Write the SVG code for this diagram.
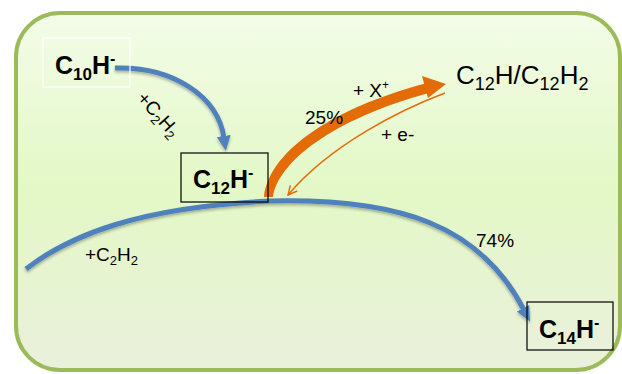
<svg xmlns="http://www.w3.org/2000/svg" width="622" height="374" viewBox="0 0 622 374">
<defs>
<linearGradient id="bg" x1="0" y1="0" x2="0" y2="1">
<stop offset="0" stop-color="#F3FCE8"/>
<stop offset="0.5" stop-color="#E3F8C6"/>
<stop offset="1" stop-color="#EAF0DC"/>
</linearGradient>
<filter id="sh" x="-10%" y="-10%" width="120%" height="130%">
<feGaussianBlur in="SourceAlpha" stdDeviation="1.5"/>
<feOffset dx="0" dy="2"/>
<feComponentTransfer><feFuncA type="linear" slope="0.3"/></feComponentTransfer>
<feMerge><feMergeNode/><feMergeNode in="SourceGraphic"/></feMerge>
</filter>
<marker id="blueHead" markerUnits="userSpaceOnUse" markerWidth="16" markerHeight="16" refX="2" refY="7" orient="auto" viewBox="0 0 16 14">
<path d="M0,0 L15,7 L0,14 Z" fill="#4F81BD"/>
</marker>
<marker id="thinHead" markerUnits="userSpaceOnUse" markerWidth="12" markerHeight="12" refX="10" refY="5" orient="auto" viewBox="0 0 12 10">
<path d="M1,0.5 L10,5 L1,9.5" fill="none" stroke="#E36C09" stroke-width="1.4"/>
</marker>
<style>
.lbl{font-family:"Liberation Sans",Arial,sans-serif;font-size:19px;fill:#000}
.big{font-family:"Liberation Sans",Arial,sans-serif;font-size:26px;fill:#000}
.node{font-family:"Liberation Sans",Arial,sans-serif;font-size:25px;font-weight:bold;fill:#000}
.blue{fill:none;stroke:#4F81BD;stroke-width:5}
.box{fill:none;stroke:#000;stroke-width:1.2}
</style>
</defs>
<rect x="16" y="13" width="604" height="357" rx="44" ry="44" fill="url(#bg)" stroke="#9BBB59" stroke-width="4"/>

<g id="connectors">
<path class="blue" filter="url(#sh)" d="M115,68 C172,66 218,96 224,138" marker-end="url(#blueHead)"/>
<path class="blue" filter="url(#sh)" d="M26,269 C70,235 140,207 270,201 C400,198 480,225 524,310" marker-end="url(#blueHead)"/>
<path d="M264,197 L273,197 C278,162 333,119 429,93 L427,83 C325,110 268,155 264,197 Z" fill="#E36C09"/>
<path d="M422,76 L446,84 L428,98 Z" fill="#E36C09"/>
<path d="M445,93 C400,110 330,145 288,195" fill="none" stroke="#E36C09" stroke-width="1.5" marker-end="url(#thinHead)"/>
</g>

<g id="n-c10h">
<rect x="43" y="38" width="87" height="49" fill="none" stroke="#FFFFFF" stroke-width="1.2"/>
<text class="node" x="55" y="74">C<tspan font-size="17" dy="6">10</tspan><tspan dy="-6">H</tspan><tspan font-size="16" dy="-10">-</tspan></text>
</g>

<g id="n-c12h">
<rect x="181" y="153" width="87" height="49" class="box"/>
<text class="node" x="193" y="188">C<tspan font-size="17" dy="6">12</tspan><tspan dy="-6">H</tspan><tspan font-size="16" dy="-10">-</tspan></text>
</g>

<g id="n-c14h">
<rect x="527" y="302" width="86" height="48" class="box"/>
<text class="node" x="539" y="338">C<tspan font-size="17" dy="6">14</tspan><tspan dy="-6">H</tspan><tspan font-size="16" dy="-10">-</tspan></text>
</g>

<g id="n-c12h2">
<text class="big" x="456" y="84">C<tspan font-size="18" dy="6">12</tspan><tspan dy="-6">H/C</tspan><tspan font-size="18" dy="6">12</tspan><tspan dy="-6">H</tspan><tspan font-size="18" dy="6">2</tspan></text>
</g>

<g id="labels">
<text class="lbl" transform="translate(136,99) rotate(48)">+C<tspan font-size="13" dy="4">2</tspan><tspan dy="-4">H</tspan><tspan font-size="13" dy="4">2</tspan></text>
<text class="lbl" x="85" y="261">+C<tspan font-size="13" dy="4">2</tspan><tspan dy="-4">H</tspan><tspan font-size="13" dy="4">2</tspan></text>
<text class="lbl" x="476" y="247">74%</text>
<text class="lbl" x="305" y="124">25%</text>
<text class="lbl" x="353" y="97">+ X<tspan font-size="12" dy="-8">+</tspan></text>
<text class="lbl" x="381" y="141">+ e-</text>
</g>
</svg>
